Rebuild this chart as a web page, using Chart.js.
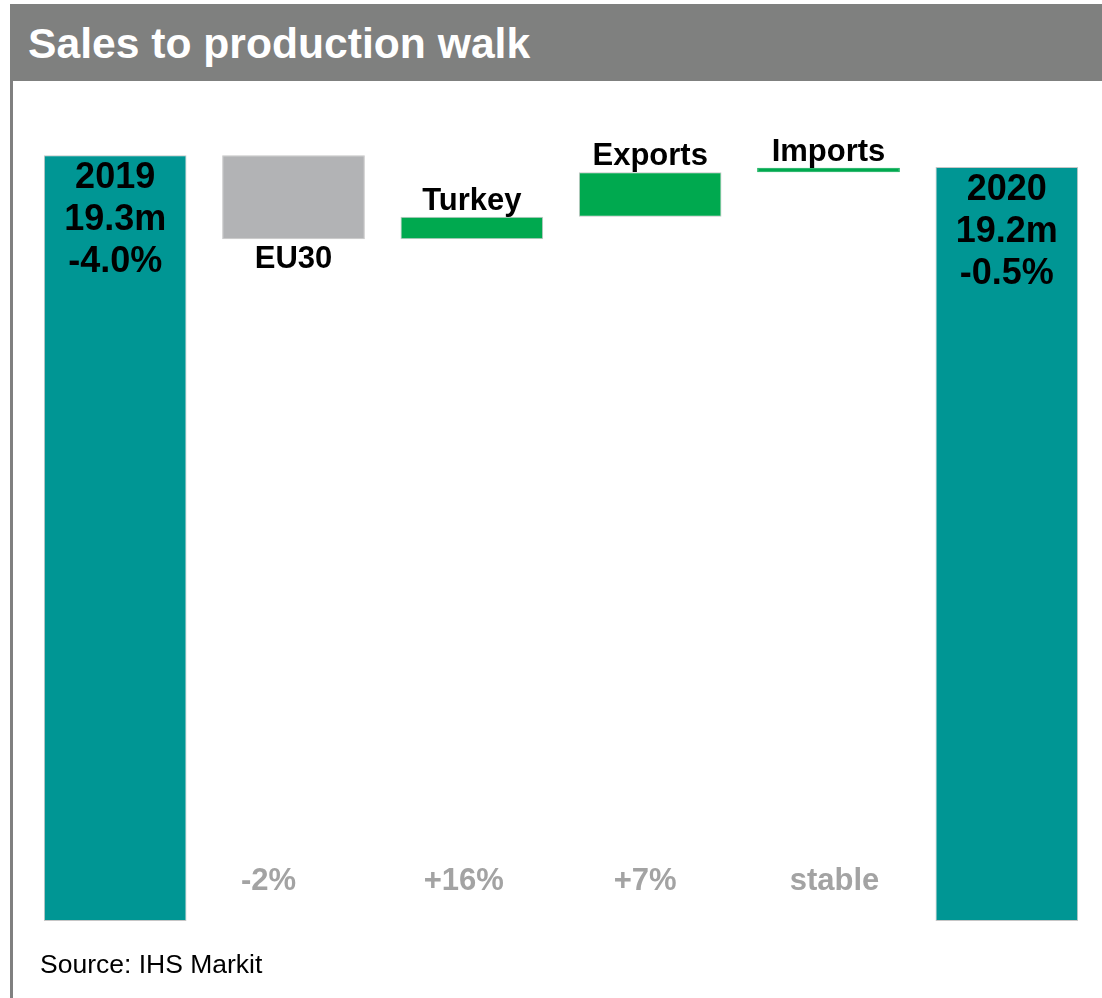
<!DOCTYPE html>
<html>
<head>
<meta charset="utf-8">
<script src="https://cdn.jsdelivr.net/npm/chart.js@4.4.0/dist/chart.umd.min.js"></script>
<style>
  html, body { margin: 0; padding: 0; background: #fff; }
  body { width: 1102px; height: 998px; position: relative; overflow: hidden; font-family: "Liberation Sans", Arial, sans-serif; }
  .titlebar { position: absolute; left: 10px; top: 4px; width: 1092px; height: 77px; background: #7f807f; }
  .titlebar h1 { margin: 0; position: absolute; left: 18px; top: 19px; color: #fff; font-size: 42px; line-height: 1; font-weight: bold; white-space: nowrap; transform: scaleX(1.015); transform-origin: left center; }
  .side { position: absolute; left: 10px; top: 81px; width: 3px; height: 917px; background: #808080; }
  .source { position: absolute; left: 40px; top: 951px; font-size: 26.5px; line-height: 1; color: #000; }
  #wrap { position: absolute; left: 14px; top: 82px; width: 1088px; height: 870px; }
</style>
</head>
<body>
<div class="titlebar"><h1>Sales to production walk</h1></div>
<div class="side"></div>
<div id="wrap"><canvas id="walk"></canvas></div>
<div class="source">Source: IHS Markit</div>
<script>
// waterfall steps, in million units
const categories = ["2019", "EU30", "Turkey", "Exports", "Imports", "2020"];
const barStart = [0, 17.18, 17.18, 17.75, 18.87, 0];
const barEnd = [19.3, 19.3, 17.75, 18.87, 18.98, 19.0];
const barLabels = [
    ["2019", "19.3m", "-4.0%"],
    ["EU30"],
    ["Turkey"],
    ["Exports"],
    ["Imports"],
    ["2020", "19.2m", "-0.5%"]
];
const changeLabels = ["", "-2%", "+16%", "+7%", "stable", ""];

const TEAL = "#009694";
const GREY = "#b2b3b5";
const GREEN = "#00a94f";
const FONT = '"Liberation Sans", Arial, sans-serif';

// small nudges so the grey change texts sit where the original has them
const changeShift = [0, -25, -8, -5, 6, 0];

const labelPlugin = {
    id: "walkLabels",
    afterDatasetsDraw(chart) {
        const ctx = chart.ctx;
        const meta = chart.getDatasetMeta(0);
        const base = chart.scales.y.getPixelForValue(0);

        ctx.save();
        ctx.textAlign = "center";
        ctx.fillStyle = "#000";

        meta.data.forEach((bar, i) => {
            const top = Math.min(bar.y, bar.base);
            const bottom = Math.max(bar.y, bar.base);
            const lines = barLabels[i];

            if (lines.length > 1) {
                ctx.font = "bold 36px " + FONT;
                ctx.textBaseline = "middle";
                lines.forEach((t, k) => ctx.fillText(t, bar.x, top + 23 + k * 42));
            } else if (changeLabels[i].startsWith("-")) {
                ctx.font = "bold 31px " + FONT;
                ctx.textBaseline = "alphabetic";
                ctx.fillText(lines[0], bar.x, bottom + 29);
            } else {
                ctx.font = "bold 31px " + FONT;
                ctx.textBaseline = "alphabetic";
                ctx.fillText(lines[0], bar.x, top - 7);
            }

            if (changeLabels[i]) {
                ctx.save();
                ctx.font = "bold 31px " + FONT;
                ctx.fillStyle = "#a3a3a3";
                ctx.textBaseline = "alphabetic";
                ctx.fillText(changeLabels[i], bar.x + changeShift[i], base - 31);
                ctx.restore();
            }
        });
        ctx.restore();
    }
};

new Chart(document.getElementById("walk"), {
    type: "bar",
    data: {
        labels: categories,
        datasets: [{
            data: categories.map((c, i) => [barStart[i], barEnd[i]]),
            backgroundColor: [TEAL, GREY, GREEN, GREEN, GREEN, TEAL],
            borderColor: ["#c6c6c6", "#c6c6c6", "#c6c6c6", "#c6c6c6", GREEN, "#c6c6c6"],
            borderWidth: 1,
            borderSkipped: false,
            barPercentage: 0.8,
            categoryPercentage: 1.0
        }]
    },
    options: {
        responsive: true,
        maintainAspectRatio: false,
        animation: false,
        layout: { padding: { left: 12, right: 6, top: 18, bottom: 31 } },
        plugins: {
            legend: { display: false },
            tooltip: { enabled: false }
        },
        scales: {
            x: { display: false },
            y: { display: false, min: 0, max: 20.69 }
        }
    },
    plugins: [labelPlugin]
});
</script>
</body>
</html>
